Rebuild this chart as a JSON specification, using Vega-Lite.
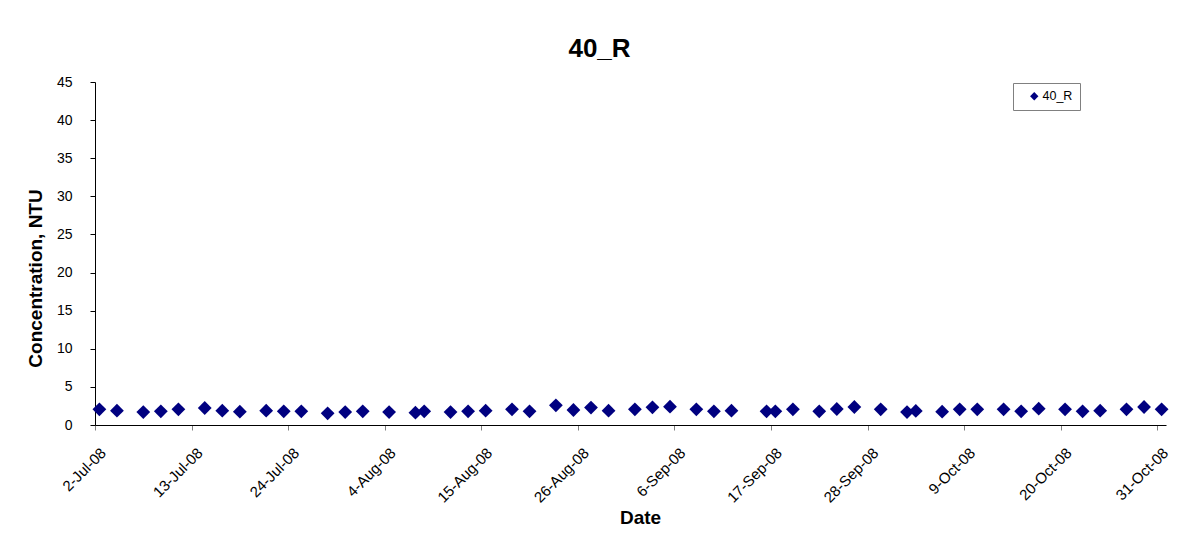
{
  "$schema": "https://vega.github.io/schema/vega-lite/v6.json",
  "width": 1071,
  "height": 343,
  "autosize": {"type": "none"},
  "padding": {"left": 95, "top": 82, "right": 16, "bottom": 116},
  "background": "white",
  "title": {
    "text": "40_R",
    "font": "Liberation Sans",
    "fontSize": 26,
    "fontWeight": "bold",
    "color": "black",
    "anchor": "middle",
    "baseline": "alphabetic",
    "offset": 24,
    "dx": -31,
    "dy": 32
  },
  "config": {
    "view": {"stroke": null},
    "axis": {
      "grid": false,
      "labelFont": "Liberation Sans",
      "labelFontSize": 14,
      "labelColor": "black",
      "titleFont": "Liberation Sans",
      "titleFontSize": 19,
      "titleFontWeight": "bold",
      "titleColor": "black",
      "domainColor": "black",
      "domainWidth": 1,
      "tickColor": "black",
      "tickSize": 5
    }
  },
  "data": {
    "values": [
      {"date": "2008-07-02T12:00", "value": 2.06, "series": "40_R"},
      {"date": "2008-07-04T12:00", "value": 1.88, "series": "40_R"},
      {"date": "2008-07-07T12:00", "value": 1.70, "series": "40_R"},
      {"date": "2008-07-09T12:00", "value": 1.79, "series": "40_R"},
      {"date": "2008-07-11T12:00", "value": 2.06, "series": "40_R"},
      {"date": "2008-07-14T12:00", "value": 2.23, "series": "40_R"},
      {"date": "2008-07-16T12:00", "value": 1.88, "series": "40_R"},
      {"date": "2008-07-18T12:00", "value": 1.75, "series": "40_R"},
      {"date": "2008-07-21T12:00", "value": 1.88, "series": "40_R"},
      {"date": "2008-07-23T12:00", "value": 1.79, "series": "40_R"},
      {"date": "2008-07-25T12:00", "value": 1.79, "series": "40_R"},
      {"date": "2008-07-28T12:00", "value": 1.53, "series": "40_R"},
      {"date": "2008-07-30T12:00", "value": 1.70, "series": "40_R"},
      {"date": "2008-08-01T12:00", "value": 1.79, "series": "40_R"},
      {"date": "2008-08-04T12:00", "value": 1.70, "series": "40_R"},
      {"date": "2008-08-07T12:00", "value": 1.62, "series": "40_R"},
      {"date": "2008-08-08T12:00", "value": 1.79, "series": "40_R"},
      {"date": "2008-08-11T12:00", "value": 1.70, "series": "40_R"},
      {"date": "2008-08-13T12:00", "value": 1.79, "series": "40_R"},
      {"date": "2008-08-15T12:00", "value": 1.88, "series": "40_R"},
      {"date": "2008-08-18T12:00", "value": 2.06, "series": "40_R"},
      {"date": "2008-08-20T12:00", "value": 1.79, "series": "40_R"},
      {"date": "2008-08-23T12:00", "value": 2.58, "series": "40_R"},
      {"date": "2008-08-25T12:00", "value": 1.97, "series": "40_R"},
      {"date": "2008-08-27T12:00", "value": 2.28, "series": "40_R"},
      {"date": "2008-08-29T12:00", "value": 1.88, "series": "40_R"},
      {"date": "2008-09-01T12:00", "value": 2.06, "series": "40_R"},
      {"date": "2008-09-03T12:00", "value": 2.32, "series": "40_R"},
      {"date": "2008-09-05T12:00", "value": 2.40, "series": "40_R"},
      {"date": "2008-09-08T12:00", "value": 2.06, "series": "40_R"},
      {"date": "2008-09-10T12:00", "value": 1.79, "series": "40_R"},
      {"date": "2008-09-12T12:00", "value": 1.88, "series": "40_R"},
      {"date": "2008-09-16T12:00", "value": 1.79, "series": "40_R"},
      {"date": "2008-09-17T12:00", "value": 1.79, "series": "40_R"},
      {"date": "2008-09-19T12:00", "value": 2.06, "series": "40_R"},
      {"date": "2008-09-22T12:00", "value": 1.79, "series": "40_R"},
      {"date": "2008-09-24T12:00", "value": 2.10, "series": "40_R"},
      {"date": "2008-09-26T12:00", "value": 2.36, "series": "40_R"},
      {"date": "2008-09-29T12:00", "value": 2.06, "series": "40_R"},
      {"date": "2008-10-02T12:00", "value": 1.70, "series": "40_R"},
      {"date": "2008-10-03T12:00", "value": 1.84, "series": "40_R"},
      {"date": "2008-10-06T12:00", "value": 1.75, "series": "40_R"},
      {"date": "2008-10-08T12:00", "value": 2.06, "series": "40_R"},
      {"date": "2008-10-10T12:00", "value": 2.06, "series": "40_R"},
      {"date": "2008-10-13T12:00", "value": 2.06, "series": "40_R"},
      {"date": "2008-10-15T12:00", "value": 1.79, "series": "40_R"},
      {"date": "2008-10-17T12:00", "value": 2.14, "series": "40_R"},
      {"date": "2008-10-20T12:00", "value": 2.06, "series": "40_R"},
      {"date": "2008-10-22T12:00", "value": 1.79, "series": "40_R"},
      {"date": "2008-10-24T12:00", "value": 1.88, "series": "40_R"},
      {"date": "2008-10-27T12:00", "value": 2.06, "series": "40_R"},
      {"date": "2008-10-29T12:00", "value": 2.36, "series": "40_R"},
      {"date": "2008-10-31T12:00", "value": 2.06, "series": "40_R"}
    ]
  },
  "mark": {"type": "point", "shape": "diamond", "filled": true, "size": 190, "opacity": 1},
  "encoding": {
    "x": {
      "field": "date",
      "type": "temporal",
      "scale": {"domain": [{"year": 2008, "month": 7, "date": 2}, {"year": 2008, "month": 11, "date": 1}]},
      "axis": {
        "values": [
          {"year": 2008, "month": 7, "date": 2},
          {"year": 2008, "month": 7, "date": 13},
          {"year": 2008, "month": 7, "date": 24},
          {"year": 2008, "month": 8, "date": 4},
          {"year": 2008, "month": 8, "date": 15},
          {"year": 2008, "month": 8, "date": 26},
          {"year": 2008, "month": 9, "date": 6},
          {"year": 2008, "month": 9, "date": 17},
          {"year": 2008, "month": 9, "date": 28},
          {"year": 2008, "month": 10, "date": 9},
          {"year": 2008, "month": 10, "date": 20},
          {"year": 2008, "month": 10, "date": 31}
        ],
        "format": "%-d-%b-%y",
        "labelAngle": -45,
        "labelFontSize": 15,
        "labelPadding": 15,
        "labelOffset": 3,
        "tickColor": "#808080",
        "title": "Date",
        "titleX": 545,
        "titleY": 98,
        "titleBaseline": "alphabetic"
      }
    },
    "y": {
      "field": "value",
      "type": "quantitative",
      "scale": {"domain": [0, 45]},
      "axis": {
        "values": [0, 5, 10, 15, 20, 25, 30, 35, 40, 45],
        "labelPadding": 18,
        "title": "Concentration, NTU",
        "titleAngle": 270,
        "titleX": -54,
        "titleY": 196,
        "titleAlign": "center",
        "titleBaseline": "alphabetic"
      }
    },
    "color": {
      "field": "series",
      "type": "nominal",
      "scale": {"range": ["#000080"]},
      "legend": {
        "title": null,
        "orient": "none",
        "legendX": 918,
        "legendY": 1,
        "strokeColor": "#808080",
        "padding": 7,
        "symbolType": "diamond",
        "symbolSize": 70,
        "symbolOffset": 8,
        "symbolOpacity": 1,
        "labelOffset": 2,
        "labelFont": "Liberation Sans",
        "labelFontSize": 12.5,
        "labelColor": "black"
      }
    }
  }
}
